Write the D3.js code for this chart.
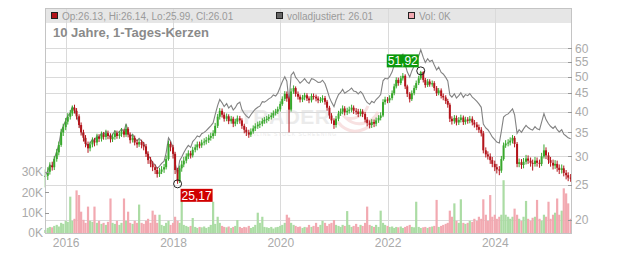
<!DOCTYPE html>
<html><head><meta charset="utf-8">
<script src="https://cdn.jsdelivr.net/npm/d3@7"></script>
<style>body{margin:0;background:#fff}svg{display:block;font-family:"Liberation Sans",Arial,sans-serif}</style>
</head><body><svg id="c" width="632" height="253"></svg>
<script>
// ---- data (semi-monthly) ----
const closes = [
26.5,27.2,28.3,28.0,29.5,30.8,32.3,35.0,36.2,37.5,38.7,39.5,
41.0,40.2,38.8,36.7,35.0,33.8,32.5,31.6,32.4,33.2,32.8,34.0,
33.6,34.5,34.0,34.8,34.2,33.5,34.0,34.8,34.2,34.6,35.2,34.5,
35.8,34.5,33.3,33.8,32.8,32.4,32.9,32.3,32.0,30.5,29.3,28.6,
28.0,27.5,26.8,27.2,27.6,28.0,29.5,32.5,31.8,30.5,27.5,25.6,
27.8,28.5,29.2,30.0,30.6,30.2,31.3,31.8,32.4,32.2,32.8,33.0,
33.3,33.8,34.2,34.8,36.5,38.7,40.2,39.2,38.2,38.8,37.6,38.2,
37.0,37.5,38.3,37.8,36.5,35.6,35.0,34.5,35.2,35.9,36.4,36.8,
37.0,37.6,37.9,38.2,38.6,39.0,39.6,40.0,40.6,42.0,43.4,44.8,
43.5,40.5,45.5,46.5,44.8,44.0,43.2,43.8,44.4,43.5,43.0,44.2,
44.0,43.5,43.0,43.1,43.6,42.6,41.0,39.0,37.8,36.7,38.2,39.5,
40.0,40.8,39.8,40.2,40.5,41.0,40.2,40.0,39.4,40.0,39.4,38.0,
37.2,36.7,37.4,37.0,37.8,38.4,39.0,42.5,43.2,43.0,43.6,45.0,
47.0,49.0,48.0,49.5,50.3,47.0,44.8,43.3,45.0,46.5,48.0,49.5,
51.5,49.0,47.4,48.5,47.6,48.0,46.5,45.0,45.8,44.2,43.8,42.8,
41.8,38.2,37.6,38.4,37.3,37.9,38.5,37.4,38.0,37.7,38.2,37.3,
36.8,36.2,35.6,34.8,31.2,30.4,30.0,29.3,28.6,28.0,27.6,27.4,
29.5,32.2,32.6,32.8,33.2,33.8,32.5,28.6,28.9,28.4,29.0,29.6,
29.2,28.8,28.6,29.2,28.8,28.6,30.0,31.2,30.2,29.3,28.8,28.3,
28.6,27.9,27.5,27.8,27.0,26.6,26.2,26.0];
const highs = [
27.6,28.0,28.9,29.0,30.1,31.5,33.0,35.8,37.0,38.4,39.6,40.4,
41.6,41.8,40.9,39.3,37.3,35.6,34.4,33.0,33.0,33.9,33.8,34.7,
34.6,35.2,35.1,35.6,35.4,34.8,34.7,35.5,35.4,35.3,36.0,35.8,
36.8,36.2,35.0,34.5,34.3,33.4,33.5,33.4,32.9,32.5,31.0,29.9,
29.1,28.5,28.0,27.9,28.2,28.6,30.2,33.2,33.0,32.3,30.9,27.9,
28.3,29.2,29.9,30.6,31.2,31.1,31.9,32.4,33.0,33.0,33.4,33.7,
34.0,34.5,34.9,35.5,37.2,39.4,40.9,40.8,39.8,39.5,39.3,38.9,
38.7,38.2,39.0,38.9,38.3,37.0,36.2,35.6,35.9,36.6,37.1,37.5,
37.7,38.3,38.6,38.9,39.3,39.7,40.3,40.7,41.3,42.7,44.1,45.6,
45.5,44.0,46.4,47.3,47.0,45.5,44.6,44.5,45.1,45.0,44.1,44.9,
44.9,44.6,44.1,43.9,44.4,44.2,43.1,41.5,39.6,38.3,38.9,40.2,
40.8,41.6,41.4,41.0,41.3,41.8,41.6,40.9,40.7,40.7,40.6,39.9,
38.6,37.8,38.1,38.0,38.5,39.1,39.8,43.3,44.0,43.9,44.4,45.8,
47.8,49.8,49.7,50.3,51.2,50.8,47.5,45.3,45.8,47.3,48.8,50.3,
51.92,51.8,49.6,49.3,49.2,48.8,48.6,47.1,46.5,46.4,44.9,44.4,
43.4,42.3,38.8,39.1,39.0,38.6,39.2,39.0,38.7,38.6,38.9,38.8,
37.9,37.4,36.8,36.2,35.3,31.8,31.0,30.6,29.9,29.2,28.6,28.2,
30.1,32.8,33.3,33.5,33.9,34.4,34.2,32.9,29.6,29.5,29.7,30.3,
30.2,29.8,29.4,29.9,29.8,29.4,30.7,32.4,31.8,30.8,29.9,29.4,
29.3,29.2,28.5,28.5,28.3,27.5,27.1,26.8];
const lows = [
24.6,25.8,26.7,27.4,27.5,29.0,30.2,31.9,34.2,35.5,36.8,38.0,
38.9,39.5,38.0,36.0,34.3,33.0,31.8,30.7,31.0,31.8,32.0,32.2,
32.9,33.0,33.4,33.4,33.5,32.8,32.9,33.4,33.6,33.6,34.0,33.9,
34.0,33.9,32.6,32.8,32.2,31.7,31.9,31.6,31.2,29.9,28.6,28.0,
27.3,26.8,26.2,26.3,26.8,27.0,27.6,29.2,31.0,29.6,26.8,25.17,
25.3,27.2,28.0,28.7,29.5,29.6,29.8,30.8,31.2,31.6,31.7,32.2,
32.4,32.7,33.2,33.6,34.2,36.0,38.0,38.5,37.5,37.6,36.9,37.0,
36.2,36.4,36.9,37.0,35.8,34.8,34.2,33.8,34.0,34.7,35.3,35.8,
36.0,36.4,37.0,37.2,37.6,38.0,38.4,39.0,39.4,40.0,41.5,42.8,
42.6,35.0,40.0,44.8,44.0,43.2,42.4,42.5,43.0,42.8,42.2,42.4,
43.2,42.7,42.2,42.3,42.4,41.8,40.2,38.2,37.0,35.8,36.1,37.6,
38.9,39.3,39.0,39.1,39.5,39.8,39.4,39.2,38.6,38.8,38.6,37.3,
36.4,35.9,36.0,36.2,36.4,37.2,37.8,38.6,41.8,42.2,42.3,43.0,
44.4,46.4,47.2,47.4,48.8,46.2,43.9,42.4,42.8,44.4,45.9,47.4,
49.0,48.2,46.6,46.8,46.9,46.9,45.7,44.2,44.4,43.5,43.0,42.0,
41.0,37.4,36.8,37.0,36.6,36.7,37.3,36.7,36.8,37.0,37.1,36.6,
36.1,35.5,34.9,34.1,30.6,29.8,29.4,28.6,28.0,27.3,26.9,26.6,
27.0,29.2,31.7,32.0,32.2,32.6,31.8,28.0,28.0,27.7,27.8,28.5,
28.6,28.1,27.4,28.1,28.1,27.9,28.2,29.6,29.5,28.6,28.1,27.6,
27.7,27.2,26.8,26.9,26.4,25.9,25.6,25.5];
const adjusted = [
26.6,27.3,28.4,28.1,29.6,30.9,32.4,35.2,36.4,37.7,38.9,39.7,
41.2,40.5,39.1,37.0,35.3,34.1,32.8,31.9,32.7,33.5,33.1,34.3,
33.9,34.9,34.4,35.2,34.6,33.9,34.5,35.3,34.7,35.2,35.8,35.1,
37.0,35.2,34.0,34.6,33.6,33.2,33.7,33.1,32.8,31.4,30.2,29.5,
28.9,28.4,27.8,28.2,28.7,29.1,30.7,33.8,33.1,31.8,28.8,26.8,
29.2,29.9,30.7,31.6,32.2,31.8,33.0,33.6,34.2,34.0,34.7,35.0,
35.4,36.0,36.5,37.2,39.2,41.6,43.2,42.3,41.3,42.1,40.9,41.6,
40.4,41.0,42.0,42.5,40.5,39.5,38.9,38.4,39.2,40.0,40.6,41.1,
41.4,42.6,42.5,42.9,43.4,43.8,44.5,44.2,45.0,46.8,48.4,50.0,
48.6,42.5,50.5,51.5,49.8,48.9,48.0,48.7,49.4,48.4,47.9,49.4,
49.2,48.7,48.2,48.3,48.9,47.8,46.0,43.8,42.5,41.3,43.0,44.6,
45.2,46.1,45.0,45.5,45.9,46.5,45.6,45.4,44.8,45.5,44.8,43.3,
42.4,41.9,42.7,42.3,43.2,43.9,44.6,48.7,49.5,49.3,50.0,51.6,
53.9,56.2,55.1,56.9,57.8,54.1,51.6,49.9,51.9,53.6,55.4,57.1,
59.4,56.6,54.8,56.1,55.1,55.6,53.9,52.2,53.2,51.4,50.9,49.8,
48.7,44.5,43.9,44.8,43.6,44.3,45.1,43.8,44.6,44.3,44.9,43.9,
43.4,42.7,42.0,41.1,36.9,36.0,35.6,34.8,34.0,33.4,32.9,32.7,
35.3,38.6,39.1,39.4,40.0,40.7,39.2,34.8,35.6,35.0,35.8,36.6,
36.1,35.7,35.5,36.3,35.8,35.6,37.4,39.5,38.0,37.0,36.4,35.9,
36.4,35.6,35.1,35.6,34.6,34.2,33.8,33.6];
const volumes = [ // thousands
1.5,2.5,3,2.8,3.5,4,3.2,5,4.5,6,5.5,17.9,
6,7,21,18.7,10.5,6.5,5,13,6,5.5,13,5,
6,4.5,5,4,5.5,17,5,4.5,6,4,5,17,
6,10.5,5,4.5,6,5,14,5,4.5,6,7,5,
11,9,5,9,4,3.5,5,6,4,5,8,6,
5,16.6,4,3.5,3,3.5,7.4,3,2.5,3,2.8,3.2,
2.5,3,4,15.4,4.5,8,5,3.5,3,2.8,3.2,2.5,
3,3.5,6.4,3,2.5,3,2.8,3.5,2.5,3,4,10,
5,8,3,2.8,2.5,3,2.2,2.8,3,3.5,4,5,
9,7.6,5,4,3.5,3,3.2,2.5,3,2.8,4,3,
3.5,5,3,4,6,5,3.5,4.5,5,6.4,4,3.5,
3,4,3.5,10.8,4,3,3.5,4.5,3,4,3.5,5,
13,4,3.5,3,4,3,11,5,4,3.5,3,3.2,
2.5,3,2.8,3.2,2.5,3,3.5,4,3,2.8,15.4,3,
2.5,2.8,3,2.5,3,3.2,3.5,16.3,3,3.5,4,4.5,
5,11,8,14.6,6,5,16.6,5,4.5,5,6,5.5,
7,6,8,7,16.6,9,6,18.7,8,9,7,8,
9,26,9,8,7,8,12,9,7,6,8,15.8,
7,6,7.5,8,16.3,7,6,9,8,15.4,7,9,
10,17,9,11,22,19.5,14.6,7];
const priceTicks = [20,25,30,35,40,45,50,55,60];
const volTicks = [0,10,20,30];
const yearTicks = [2016,2018,2020,2022,2024];
const legendLabels = ["Op:26.13, Hi:26.14, Lo:25.99, Cl:26.01","volladjustiert: 26.01","Vol: 0K"];
const legendColors = ["#b3141b","#666666","#f2a9b1"];
const titleText = "10 Jahre, 1-Tages-Kerzen";
const highMark = {index:168, value:51.92, text:"51,92"};
const lowMark = {index:59, value:25.17, text:"25,17"};

// ---- layout ----
const L = 45, R = 572, T = 8, B = 233, HEAD = 23;
const svg = d3.select("#c");
const dateAt = i => new Date(2015, 7 + Math.floor((i + 1) / 2), i % 2 === 0 ? 15 : 1);
const data = closes.map((c, i) => ({
  d: dateAt(i), o: i > 0 ? closes[i - 1] : c, c, h: highs[i], l: lows[i], a: adjusted[i], v: volumes[i]
}));
const x = d3.scaleTime().domain([new Date(2015, 7, 13), new Date(2025, 5, 10)]).range([L, R]);
const y = d3.scaleLog().domain([20, 60]).range([219.7, 48.3]);
const yv = d3.scaleLinear().domain([0, 30]).range([B, B - 60.9]);

// header band
svg.append("rect").attr("x", L).attr("y", T).attr("width", R - L).attr("height", HEAD - T).attr("fill", "#e6e6e6");

// grid
const gridC = "#dadada";
svg.append("g").selectAll("line").data(yearTicks).join("line")
  .attr("x1", d => Math.round(x(new Date(d, 0, 1))) + 0.5).attr("x2", d => Math.round(x(new Date(d, 0, 1))) + 0.5)
  .attr("y1", T).attr("y2", B).attr("stroke", gridC);
svg.append("g").selectAll("line").data(priceTicks).join("line")
  .attr("x1", L).attr("x2", R).attr("y1", d => Math.round(y(d)) + 0.5).attr("y2", d => Math.round(y(d)) + 0.5)
  .attr("stroke", gridC);

// watermark
const wm = svg.append("g").attr("opacity", 0.55);
wm.append("text").attr("x", 240).attr("y", 124).attr("font-size", 21).attr("font-weight", "bold")
  .attr("fill", "#dcdcdc").attr("letter-spacing", 0.5).text("TRADER");
wm.append("text").attr("x", 247).attr("y", 135.5).attr("font-size", 5).attr("fill", "#dcdcdc")
  .attr("letter-spacing", 1).text("ONLINE STOCK SCREENING");
wm.append("path").attr("d", "M338,122 C350,138 372,132 378,112 C372,124 356,128 346,118 C354,120 364,116 368,106")
  .attr("fill", "none").attr("stroke", "#f3c9c9").attr("stroke-width", 3);

// volume bars
const upC = "#38a82c", dnC = "#b3141b";
svg.append("g").selectAll("rect").data(data).join("rect")
  .attr("x", d => x(d.d) - 1.1).attr("width", 2.2)
  .attr("y", d => yv(d.v)).attr("height", d => B - yv(d.v))
  .attr("fill", d => d.c >= d.o ? "#abdca4" : "#f2a9b1");

// adjusted line
svg.append("path").datum(data)
  .attr("d", d3.line().x(d => x(d.d)).y(d => y(d.a)))
  .attr("fill", "none").attr("stroke", "#828282").attr("stroke-width", 1.1);

// candles
const cg = svg.append("g");
cg.selectAll("line").data(data).join("line")
  .attr("x1", d => x(d.d)).attr("x2", d => x(d.d))
  .attr("y1", d => y(d.h)).attr("y2", d => y(d.l))
  .attr("stroke", d => d.c >= d.o ? upC : dnC).attr("stroke-width", 1);
cg.selectAll("rect").data(data).join("rect")
  .attr("x", d => x(d.d) - 1).attr("width", 2)
  .attr("y", d => y(Math.max(d.o, d.c)))
  .attr("height", d => Math.max(1, Math.abs(y(d.o) - y(d.c))))
  .attr("fill", d => d.c >= d.o ? upC : dnC);

// frame
svg.append("rect").attr("x", L + 0.5).attr("y", T + 0.5).attr("width", R - L - 1).attr("height", B - T)
  .attr("fill", "none").attr("stroke", "#c4c4c4");

// right price axis
const axC = "#aaaaaa";
svg.append("g").selectAll("line").data(priceTicks).join("line")
  .attr("x1", R - 4).attr("x2", R).attr("y1", d => Math.round(y(d)) + 0.5).attr("y2", d => Math.round(y(d)) + 0.5)
  .attr("stroke", "#999");
svg.append("g").selectAll("text").data(priceTicks).join("text")
  .attr("x", R + 3).attr("y", d => y(d)).attr("dy", "0.35em")
  .attr("font-size", 12).attr("fill", axC).text(d => d);

// left volume axis
svg.append("g").selectAll("line").data(volTicks.filter(v => v > 0)).join("line")
  .attr("x1", L).attr("x2", L + 4).attr("y1", d => Math.round(yv(d)) + 0.5).attr("y2", d => Math.round(yv(d)) + 0.5)
  .attr("stroke", "#999");
svg.append("g").selectAll("text").data(volTicks).join("text")
  .attr("x", L - 2).attr("y", d => yv(d)).attr("dy", "0.35em").attr("text-anchor", "end")
  .attr("font-size", 12).attr("fill", axC).text(d => d + "K");

// x axis labels
svg.append("g").selectAll("text").data(yearTicks).join("text")
  .attr("x", d => x(new Date(d, 0, 1)) + 0.5).attr("y", 247).attr("text-anchor", "middle")
  .attr("font-size", 12).attr("fill", axC).text(d => d);

// legend
const lgX = [51, 276, 408];
legendLabels.forEach((t, i) => {
  svg.append("rect").attr("x", lgX[i] + 0.5).attr("y", 12.5).attr("width", 6).attr("height", 6)
    .attr("fill", legendColors[i]).attr("stroke", "#222");
  svg.append("text").attr("x", lgX[i] + 11).attr("y", 19.5).attr("font-size", 10).attr("fill", "#9a9a9a").text(t);
});
svg.append("text").attr("x", 53).attr("y", 37.3).attr("font-size", 13).attr("font-weight", "bold")
  .attr("fill", "#8a8a8a").text(titleText);

// high / low markers
function marker(m, color, above) {
  const cx = x(dateAt(m.index)), cy = y(m.value);
  svg.append("circle").attr("cx", cx).attr("cy", cy).attr("r", 4)
    .attr("fill", "none").attr("stroke", "#222").attr("stroke-width", 1);
  const w = 32, h = 13;
  const bx = above ? cx - 34 : cx + 3, by = above ? cy - 16.5 : cy + 5;
  svg.append("rect").attr("x", bx).attr("y", by).attr("width", w).attr("height", h).attr("fill", color);
  svg.append("text").attr("x", bx + w / 2).attr("y", by + h / 2).attr("dy", "0.36em").attr("text-anchor", "middle")
    .attr("font-size", 12).attr("fill", "#fff").text(m.text);
}
marker(highMark, "#0c990c", true);
marker(lowMark, "#d00000", false);
</script></body></html>
